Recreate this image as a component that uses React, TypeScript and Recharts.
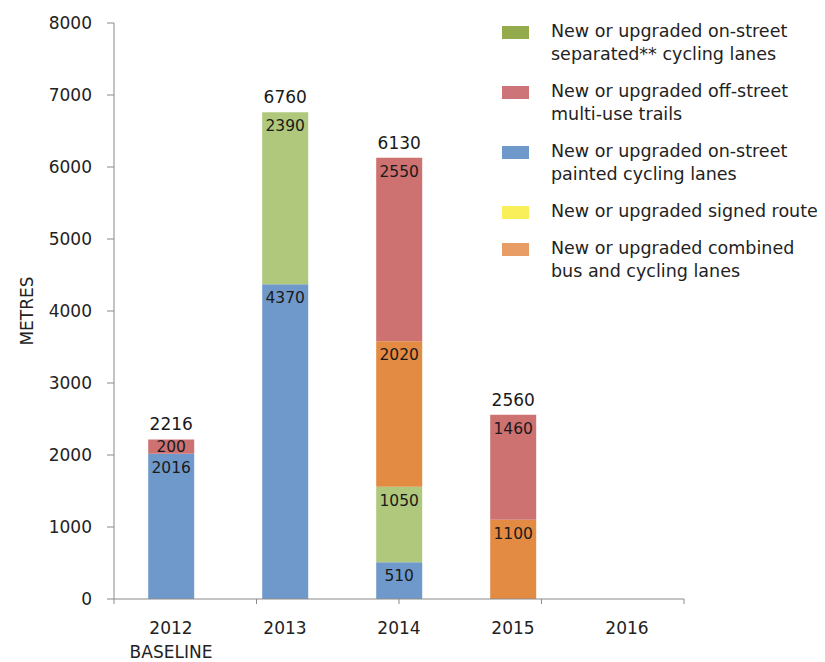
import React from 'react';
import { BarChart, Bar, XAxis, YAxis, LabelList, Legend, Label } from 'recharts';

const categories = ['2012\nBASELINE', '2013', '2014', '2015', '2016'];
const paintedLanes = [2016, 4370, 510, 0, 0];
const separatedLanes = [0, 2390, 1050, 0, 0];
const signedRoute = [0, 0, 0, 0, 0];
const busLanes = [0, 0, 2020, 1100, 0];
const offStreetTrails = [200, 0, 2550, 1460, 0];
const yTicks = [0, 1000, 2000, 3000, 4000, 5000, 6000, 7000, 8000];
const boundaryTicks = [0, 1, 2, 3, 4, 5];

const series = [
  { key: 'painted', name: 'New or upgraded on-street\npainted cycling lanes', values: paintedLanes, fill: '#7099cb', legend: '#7099cb' },
  { key: 'separated', name: 'New or upgraded on-street\nseparated** cycling lanes', values: separatedLanes, fill: '#b0c87c', legend: '#93ab4d' },
  { key: 'signed', name: 'New or upgraded signed route', values: signedRoute, fill: '#f9ef5a', legend: '#f9ef5a' },
  { key: 'bus', name: 'New or upgraded combined\nbus and cycling lanes', values: busLanes, fill: '#e38a43', legend: '#e89c66' },
  { key: 'trails', name: 'New or upgraded off-street\nmulti-use trails', values: offStreetTrails, fill: '#cd7171', legend: '#cd7479' },
];
const legendOrder = ['separated', 'trails', 'painted', 'signed', 'bus'];

const data = categories.map((c, i) => {
  const row: any = { category: c };
  let t = 0;
  let topKey = '';
  series.forEach((s) => {
    row[s.key] = s.values[i];
    t += s.values[i];
    if (s.values[i]) topKey = s.key;
  });
  series.forEach((s) => {
    row[s.key + 'Total'] = s.key === topKey ? t : 0;
  });
  return row;
});

const FONT = 'DejaVu Sans';
const TEXT = '#222';
const AXIS = '#8a8a8a';

const CategoryTick = (props: any) => {
  const { x, y, payload } = props;
  const lines = String(payload.value).split('\n');
  return (
    <text x={x} y={y} textAnchor="middle" fill={TEXT} fontSize={17} fontFamily={FONT}>
      {lines.map((l, i) => (
        <tspan key={i} x={x} dy={i === 0 ? '0.36em' : 24}>
          {l}
        </tspan>
      ))}
    </text>
  );
};

const SegmentLabel = (props: any) => {
  const { x, y, width, height, value } = props;
  if (!value) return null;
  const off = Math.min(14, Math.abs(height) / 2);
  return (
    <text x={x + width / 2} y={y + off} textAnchor="middle" dominantBaseline="central" fill="#1a1a1a" fontSize={15.5} fontFamily={FONT}>
      {value}
    </text>
  );
};

const TotalLabel = (props: any) => {
  const { x, y, width, value } = props;
  if (!value) return null;
  return (
    <text x={x + width / 2} y={y - 15} textAnchor="middle" dominantBaseline="central" fill="#1a1a1a" fontSize={17} fontFamily={FONT}>
      {value}
    </text>
  );
};

const LegendContent = () => (
  <div style={{ fontFamily: FONT, fontSize: 17.5, color: TEXT, lineHeight: '23px' }}>
    {legendOrder.map((k) => {
      const s = series.find((q) => q.key === k)!;
      const lines = s.name.split('\n');
      return (
        <div key={k} style={{ display: 'flex', alignItems: 'flex-start', marginBottom: 14 }}>
          <div style={{ width: 27, height: 13, background: s.legend, marginTop: 6, flex: 'none' }} />
          <div style={{ marginLeft: 22, whiteSpace: 'nowrap' }}>
            {lines.map((l, i) => (
              <div key={i}>{l}</div>
            ))}
          </div>
        </div>
      );
    })}
  </div>
);

export default function App() {
  return (
    <BarChart
      width={817}
      height={654}
      data={data}
      margin={{ top: 15, right: 141, bottom: 7, left: 0 }}
      barCategoryGap="30%"
      style={{ fontFamily: FONT }}
    >
      <XAxis
        xAxisId="a_grid"
        type="number"
        domain={[0, 5]}
        ticks={boundaryTicks}
        height={1}
        tick={() => <g />}
        tickLine={{ stroke: AXIS }}
        tickSize={5}
        axisLine={{ stroke: AXIS }}
        allowDataOverflow
      />
      <XAxis
        xAxisId="b_cat"
        dataKey="category"
        height={55}
        tickLine={false}
        axisLine={false}
        tickSize={0}
        tickMargin={28}
        interval={0}
        tick={<CategoryTick />}
      />
      <YAxis
        width={106}
        domain={[0, 8000]}
        ticks={yTicks}
        interval={0}
        tickSize={7}
        tickMargin={15}
        tickLine={{ stroke: AXIS }}
        axisLine={{ stroke: AXIS }}
        tick={{ fill: TEXT, fontSize: 17, fontFamily: FONT }}
      >
        <Label value="METRES" angle={-90} position="insideLeft" offset={19} style={{ textAnchor: 'middle', fill: TEXT, fontSize: 17, fontFamily: FONT }} />
      </YAxis>
      <Legend
        layout="vertical"
        align="center"
        verticalAlign="middle"
        content={<LegendContent />}
        wrapperStyle={{ top: 12, left: 494, width: 323, bottom: 'auto' }}
      />
      {series.map((s) => (
        <Bar key={s.key} xAxisId="b_cat" dataKey={s.key} name={s.name} stackId="a" fill={s.fill} isAnimationActive={false}>
          <LabelList dataKey={s.key} content={<SegmentLabel />} />
          <LabelList dataKey={s.key + 'Total'} content={<TotalLabel />} />
        </Bar>
      ))}
    </BarChart>
  );
}
